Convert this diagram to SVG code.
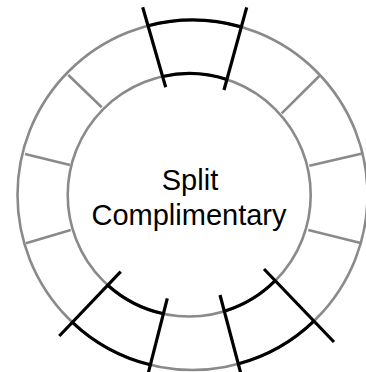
<svg xmlns="http://www.w3.org/2000/svg" width="366" height="372" viewBox="0 0 366 372">
  <style>
    .ring { fill: none; stroke: #8a8a8a; stroke-width: 2.6; }
    .div { stroke: #8a8a8a; stroke-width: 2.6; stroke-linecap: butt; fill: none; }
    .sel { fill: none; stroke: #000; stroke-width: 3.2; stroke-linecap: butt; }
    .label { font-family: "Liberation Sans", Arial, sans-serif; font-size: 29px; fill: #000; text-anchor: middle; }
  </style>
  <rect width="366" height="372" fill="#fff"/>
  <g id="wheel">
    <circle class="ring" cx="192.5" cy="195" r="175"/>
    <circle class="ring" cx="189.2" cy="195" r="121.5"/>
    <line class="div" x1="68.3" y1="75" x2="101.7" y2="107.3"/>
    <line class="div" x1="319.3" y1="76" x2="281.7" y2="113.3"/>
    <line class="div" x1="363.3" y1="153.3" x2="309.3" y2="165.7"/>
    <line class="div" x1="361.7" y1="243.3" x2="308.3" y2="230"/>
    <line class="div" x1="25" y1="154" x2="70" y2="165"/>
    <line class="div" x1="26" y1="243.3" x2="70.7" y2="230"/>
  </g>
  <g id="segment-top">
    <path class="sel" d="M148 25.75 A175 175 0 0 1 241.3 26.9"/>
    <path class="sel" d="M162.6 76.45 A121.5 121.5 0 0 1 226.9 79.5"/>
    <line class="sel" x1="142.7" y1="7.3" x2="165.7" y2="87.3"/>
    <line class="sel" x1="246.7" y1="7.3" x2="224" y2="90"/>
  </g>
  <g id="segment-bottom-left">
    <path class="sel" d="M72.4 322.3 A175 175 0 0 0 150.2 364.8"/>
    <path class="sel" d="M107.8 285.2 A121.5 121.5 0 0 0 163.3 313.7"/>
    <line class="sel" x1="59.3" y1="336" x2="120.7" y2="271.7"/>
    <line class="sel" x1="148.3" y1="373" x2="167.3" y2="298.3"/>
  </g>
  <g id="segment-bottom-right">
    <path class="sel" d="M238.5 363.8 A175 175 0 0 0 313.9 321.1"/>
    <path class="sel" d="M224.4 311.25 A121.5 121.5 0 0 0 275.2 280.7"/>
    <line class="sel" x1="240.7" y1="373" x2="220" y2="295"/>
    <line class="sel" x1="334" y1="342" x2="264" y2="269"/>
  </g>
  <g id="title">
    <text class="label" x="190" y="190">Split</text>
    <text class="label" x="189" y="224.5">Complimentary</text>
  </g>
</svg>
